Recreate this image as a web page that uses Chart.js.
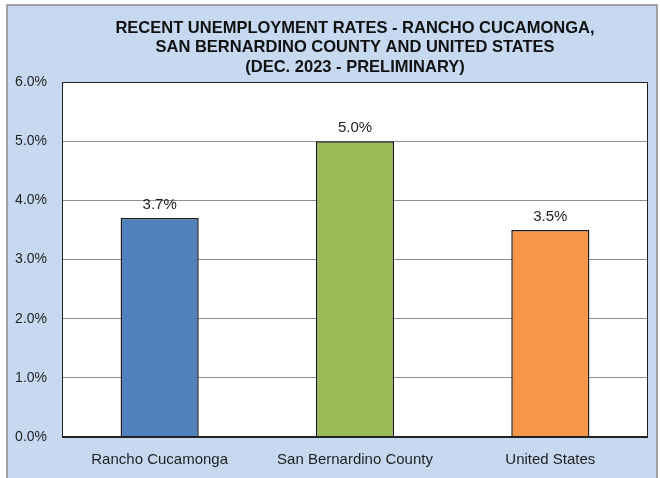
<!doctype html>
<html>
<head>
    <meta charset="UTF-8"/>
    <title>Unemployment Rates</title>
    <style type="text/css">
        body{ margin:0; background:#fff; }
    </style>
</head>
<body>
    <canvas id="myChart" width="660" height="478"></canvas>

    <script src="https://cdn.jsdelivr.net/npm/chart.js"></script>
    <script>
        const titleLines = [
            'RECENT UNEMPLOYMENT RATES - RANCHO CUCAMONGA,',
            'SAN BERNARDINO COUNTY AND UNITED STATES',
            '(DEC. 2023 - PRELIMINARY)'
        ];
        const areas = ['Rancho Cucamonga', 'San Bernardino County', 'United States'];
        const rates = [3.7, 5.0, 3.5];
        const barColors = ['#4F81BD', '#9BBB59', '#F79646'];
        const yTicks = [0, 1, 2, 3, 4, 5, 6];

        const textColor = '#1e1e1e';

        // outer panel and white plot background
        const panelPlugin = {
            id: 'panel',
            beforeDraw(chart) {
                const ctx = chart.ctx;
                const a = chart.chartArea;
                ctx.save();
                ctx.fillStyle = '#fff';
                ctx.fillRect(0, 0, chart.width, chart.height);
                ctx.fillStyle = '#C6D9F1';
                ctx.fillRect(7, 5, 650, chart.height);
                ctx.strokeStyle = '#8a8a8a';
                ctx.lineWidth = 1.5;
                ctx.strokeRect(7, 5, 650, chart.height + 5);
                ctx.fillStyle = '#fff';
                ctx.fillRect(a.left, a.top, a.right - a.left, a.bottom - a.top);
                ctx.restore();
            },
            afterDraw(chart) {
                const ctx = chart.ctx;
                const a = chart.chartArea;
                ctx.save();
                // plot frame
                ctx.strokeStyle = '#222';
                ctx.lineWidth = 1;
                ctx.strokeRect(a.left + 0.5, a.top + 0.5, a.right - a.left - 1, a.bottom - a.top);
                ctx.lineWidth = 2;
                ctx.beginPath();
                ctx.moveTo(a.left, a.bottom);
                ctx.lineTo(a.right, a.bottom);
                ctx.stroke();
                // title, centred over the plot area
                ctx.fillStyle = '#111';
                ctx.font = 'bold 16.5px "Liberation Sans"';
                ctx.textAlign = 'center';
                ctx.textBaseline = 'middle';
                const cx = (a.left + a.right) / 2;
                titleLines.forEach((line, i) => {
                    ctx.fillText(line, cx, 28 + i * 19.5);
                });
                ctx.restore();
            }
        };

        // value labels above the bars
        const valueLabels = {
            id: 'valueLabels',
            afterDatasetsDraw(chart) {
                const ctx = chart.ctx;
                const meta = chart.getDatasetMeta(0);
                ctx.save();
                ctx.fillStyle = textColor;
                ctx.font = '15px "Liberation Sans"';
                ctx.textAlign = 'center';
                ctx.textBaseline = 'bottom';
                meta.data.forEach((bar, i) => {
                    ctx.fillText(rates[i].toFixed(1) + '%', bar.x, bar.y - 6);
                });
                ctx.restore();
            }
        };

        const data = {
            labels: areas,
            datasets: [{
                data: rates,
                backgroundColor: barColors,
                borderColor: '#1a1a1a',
                borderWidth: 1.5,
                barPercentage: 0.4,
                categoryPercentage: 1
            }]
        };

        const config = {
            type: 'bar',
            data: data,
            options: {
                responsive: false,
                animation: false,
                layout: {
                    padding: { top: 82, left: 7, right: 12, bottom: 0 }
                },
                plugins: {
                    legend: { display: false },
                    title: { display: false },
                    tooltip: { enabled: false }
                },
                scales: {
                    x: {
                        grid: { display: false },
                        border: { display: false },
                        ticks: {
                            color: textColor,
                            font: { family: 'Liberation Sans', size: 15 },
                            padding: 6
                        },
                        afterFit: (s) => { s.height = 41; }
                    },
                    y: {
                        min: 0,
                        max: 6,
                        afterBuildTicks: (s) => { s.ticks = yTicks.map(v => ({ value: v })); },
                        grid: { color: '#8f8f8f', lineWidth: 1, drawTicks: false },
                        border: { display: false },
                        ticks: {
                            color: textColor,
                            font: { family: 'Liberation Sans', size: 14 },
                            padding: 15,
                            callback: (v) => v.toFixed(1) + '%'
                        },
                        afterFit: (s) => { s.width = 55; }
                    }
                }
            },
            plugins: [panelPlugin, valueLabels]
        };

        const myChart = new Chart(
            document.getElementById('myChart'),
            config
        );
    </script>
</body>
</html>
